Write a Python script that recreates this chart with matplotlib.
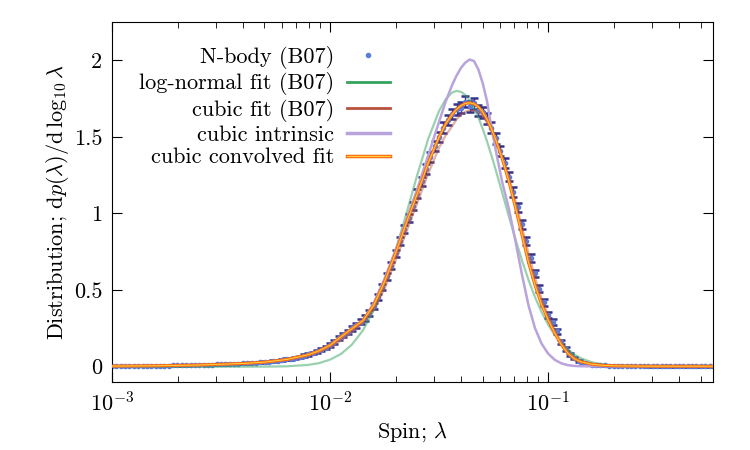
import numpy as np
import matplotlib
matplotlib.use("Agg")
import matplotlib.pyplot as plt
from matplotlib.lines import Line2D
from matplotlib.legend_handler import HandlerTuple

plt.rcParams['font.family'] = 'serif'
plt.rcParams['font.serif'] = ['cmr10', 'DejaVu Serif']
plt.rcParams['mathtext.fontset'] = 'cm'
plt.rcParams['axes.formatter.use_mathtext'] = True
plt.rcParams['font.size'] = 16

# N-body (B07) points, log10(lambda)
nbody_loglam = [
    -3.00, -2.98, -2.96, -2.94, -2.92, -2.90, -2.88, -2.86, -2.84, -2.82,
    -2.80, -2.78, -2.76, -2.74, -2.72, -2.70, -2.68, -2.66, -2.64, -2.62,
    -2.60, -2.58, -2.56, -2.54, -2.52, -2.50, -2.48, -2.46, -2.44, -2.42,
    -2.40, -2.38, -2.36, -2.34, -2.32, -2.30, -2.28, -2.26, -2.24, -2.22,
    -2.20, -2.18, -2.16, -2.14, -2.12, -2.10, -2.08, -2.06, -2.04, -2.02,
    -2.00, -1.98, -1.96, -1.94, -1.92, -1.90, -1.88, -1.86, -1.84, -1.82,
    -1.80, -1.78, -1.76, -1.74, -1.72, -1.70, -1.68, -1.66, -1.64, -1.62,
    -1.60, -1.58, -1.56, -1.54, -1.52, -1.50, -1.48, -1.46, -1.44, -1.42,
    -1.40, -1.38, -1.36, -1.34, -1.32, -1.30, -1.28, -1.26, -1.24, -1.22,
    -1.20, -1.18, -1.16, -1.14, -1.12, -1.10, -1.08, -1.06, -1.04, -1.02,
    -1.00, -0.98, -0.96, -0.94, -0.92, -0.90, -0.88, -0.86, -0.84, -0.82,
    -0.80, -0.78, -0.76, -0.74, -0.72, -0.70, -0.68, -0.66, -0.64, -0.62,
    -0.60, -0.58, -0.56, -0.54, -0.52, -0.50, -0.48, -0.46, -0.44, -0.42,
    -0.40, -0.38, -0.36, -0.34, -0.32, -0.30, -0.28, -0.26]
nbody_y = [
    0.004, 0.004, 0.004, 0.005, 0.004, 0.005, 0.005, 0.005, 0.006, 0.005,
    0.006, 0.007, 0.006, 0.007, 0.008, 0.008, 0.009, 0.009, 0.010, 0.010,
    0.011, 0.012, 0.013, 0.014, 0.015, 0.016, 0.017, 0.018, 0.019, 0.020,
    0.022, 0.023, 0.025, 0.026, 0.028, 0.030, 0.033, 0.036, 0.040, 0.044,
    0.048, 0.052, 0.057, 0.063, 0.072, 0.080, 0.090, 0.100, 0.112, 0.125,
    0.140, 0.160, 0.185, 0.205, 0.225, 0.250, 0.270, 0.292, 0.318, 0.350,
    0.395, 0.455, 0.52, 0.59, 0.66, 0.74, 0.82, 0.90, 0.97, 1.05,
    1.13, 1.21, 1.29, 1.37, 1.44, 1.50, 1.56, 1.61, 1.65, 1.68,
    1.69, 1.73, 1.70, 1.72, 1.67, 1.66, 1.62, 1.56, 1.49, 1.41,
    1.33, 1.24, 1.14, 1.04, 0.93, 0.82, 0.71, 0.61, 0.51, 0.42,
    0.34, 0.29, 0.23, 0.16, 0.115, 0.080, 0.055, 0.038, 0.027, 0.019,
    0.014, 0.011, 0.009, 0.008, 0.007, 0.006, 0.006, 0.005, 0.005, 0.004,
    0.004, 0.004, 0.004, 0.003, 0.003, 0.003, 0.003, 0.003, 0.003, 0.002,
    0.002, 0.002, 0.002, 0.002, 0.002, 0.002, 0.002, 0.002]
nbody_err = [
    0.002, 0.002, 0.002, 0.002, 0.002, 0.002, 0.002, 0.002, 0.002, 0.002,
    0.002, 0.002, 0.002, 0.002, 0.002, 0.002, 0.002, 0.002, 0.002, 0.002,
    0.003, 0.003, 0.003, 0.003, 0.003, 0.003, 0.003, 0.003, 0.003, 0.003,
    0.004, 0.004, 0.004, 0.004, 0.005, 0.005, 0.005, 0.005, 0.006, 0.006,
    0.006, 0.007, 0.007, 0.008, 0.008, 0.009, 0.009, 0.010, 0.010, 0.011,
    0.012, 0.012, 0.013, 0.014, 0.014, 0.015, 0.015, 0.016, 0.017, 0.017,
    0.018, 0.019, 0.020, 0.021, 0.022, 0.023, 0.024, 0.025, 0.026, 0.027,
    0.028, 0.029, 0.030, 0.031, 0.032, 0.033, 0.034, 0.035, 0.035, 0.036,
    0.036, 0.036, 0.036, 0.036, 0.036, 0.035, 0.035, 0.034, 0.034, 0.033,
    0.032, 0.031, 0.030, 0.029, 0.028, 0.027, 0.025, 0.024, 0.022, 0.021,
    0.019, 0.018, 0.016, 0.014, 0.012, 0.010, 0.008, 0.007, 0.006, 0.005,
    0.004, 0.004, 0.003, 0.003, 0.003, 0.003, 0.003, 0.002, 0.002, 0.002,
    0.002, 0.002, 0.002, 0.002, 0.002, 0.002, 0.002, 0.002, 0.002, 0.002,
    0.002, 0.002, 0.002, 0.002, 0.002, 0.002, 0.002, 0.002]

# fitted curves, log10(lambda)
curve_loglam = [-3.0, -2.8, -2.6, -2.4, -2.3, -2.2, -2.1, -2.05, -2.0, -1.95,
                -1.9, -1.85, -1.8, -1.75, -1.7, -1.65, -1.6, -1.55, -1.5, -1.47,
                -1.44, -1.42, -1.40, -1.38, -1.36, -1.34, -1.32, -1.30, -1.28, -1.26,
                -1.24, -1.21, -1.18, -1.15, -1.12, -1.09, -1.06, -1.03, -1.0, -0.97,
                -0.94, -0.91, -0.88, -0.85, -0.8, -0.75, -0.7, -0.6, -0.5, -0.4,
                -0.24]
lognormal_b07 = [0.0, 0.0, 0.0, 0.0001, 0.0004, 0.0024, 0.0115, 0.0235, 0.046, 0.083,
                 0.144, 0.236, 0.368, 0.542, 0.756, 1.0, 1.253, 1.487, 1.67, 1.746,
                 1.790, 1.800, 1.794, 1.774, 1.738, 1.688, 1.626, 1.552, 1.469, 1.379,
                 1.282, 1.132, 0.980, 0.832, 0.693, 0.566, 0.453, 0.356, 0.274, 0.207,
                 0.154, 0.112, 0.079, 0.055, 0.029, 0.015, 0.007, 0.0013, 0.0002, 0.0,
                 0.0]
cubic_b07 = [0.004, 0.006, 0.010, 0.019, 0.027, 0.042, 0.07, 0.094, 0.126, 0.17,
             0.225, 0.285, 0.37, 0.51, 0.69, 0.88, 1.07, 1.26, 1.43, 1.51,
             1.57, 1.615, 1.645, 1.665, 1.675, 1.672, 1.66, 1.635, 1.595, 1.545,
             1.48, 1.37, 1.235, 1.08, 0.91, 0.74, 0.58, 0.445, 0.335, 0.24,
             0.16, 0.10, 0.06, 0.036, 0.017, 0.01, 0.006, 0.004, 0.003, 0.003,
             0.003]
cubic_intrinsic = [0.004, 0.006, 0.011, 0.021, 0.03, 0.047, 0.078, 0.104, 0.14, 0.195,
                   0.25, 0.30, 0.415, 0.575, 0.76, 0.96, 1.16, 1.38, 1.60, 1.73,
                   1.84, 1.90, 1.95, 1.985, 2.005, 1.995, 1.94, 1.85, 1.73, 1.56,
                   1.41, 1.20, 1.03, 0.82, 0.60, 0.40, 0.25, 0.15, 0.085, 0.045,
                   0.022, 0.010, 0.005, 0.003, 0.003, 0.003, 0.003, 0.003, 0.003, 0.003,
                   0.003]
cubic_convolved = [0.004, 0.006, 0.011, 0.021, 0.030, 0.047, 0.078, 0.104, 0.140, 0.195,
                   0.248, 0.300, 0.400, 0.555, 0.740, 0.940, 1.130, 1.330, 1.500, 1.585,
                   1.647, 1.680, 1.704, 1.718, 1.723, 1.716, 1.697, 1.662, 1.614, 1.552,
                   1.480, 1.355, 1.210, 1.040, 0.860, 0.680, 0.530, 0.405, 0.305, 0.220,
                   0.145, 0.088, 0.052, 0.032, 0.016, 0.009, 0.006, 0.004, 0.003, 0.003,
                   0.003]

c_data = '#5b7ddb'
c_err = '#34338c'
c_green = '#34a35e'
c_red = '#b8523e'
c_purple = '#b9a3dc'
c_orange = '#fb6a13'
c_yellow = '#ffd23c'

fig = plt.figure(figsize=(7.5, 4.5), dpi=100)
ax = fig.add_axes([112 / 750, 1 - 382 / 450, 601 / 750, 360 / 450])

lam = 10 ** np.array(nbody_loglam)
clam = 10 ** np.array(curve_loglam)

ax.errorbar(lam, nbody_y, yerr=nbody_err, fmt='o', ms=3, color=c_data, mec=c_data,
            ecolor=c_err, elinewidth=1, capsize=3, capthick=1.8, zorder=2)
ax.plot(clam, lognormal_b07, color=c_green, lw=1.6, alpha=0.5, zorder=3)
ax.plot(clam, cubic_b07, color=c_red, lw=1.6, alpha=0.45, zorder=3)
ax.plot(clam, cubic_intrinsic, color=c_purple, lw=1.8, zorder=3)
ax.plot(clam, cubic_convolved, color=c_orange, lw=2.2, zorder=4)
ax.plot(clam, cubic_convolved, color=c_yellow, lw=0.7, zorder=5)

ax.set_xscale('log')
ax.set_xlim(1e-3, 0.57)
ax.set_ylim(-0.1, 2.25)
ax.set_yticks([0, 0.5, 1, 1.5, 2])
ax.set_yticklabels(['0', '0.5', '1', '1.5', '2'])
ax.tick_params(which='both', direction='in', top=True, right=True)
ax.tick_params(which='major', length=7, pad=7)
ax.tick_params(which='minor', length=4)
ax.tick_params(axis='y', which='minor', left=False, right=False)

ax.set_xlabel(r'Spin; $\lambda$', labelpad=3)
ax.set_ylabel(r'Distribution; $\mathrm{d}p(\lambda)/\mathrm{d}\,\log_{10}\lambda$', labelpad=2)

handles = [
    Line2D([], [], marker='o', ls='none', ms=3, color=c_data),
    Line2D([], [], color=c_green, lw=2),
    Line2D([], [], color=c_red, lw=2),
    Line2D([], [], color=c_purple, lw=2.5),
    (Line2D([], [], color=c_orange, lw=2.5), Line2D([], [], color=c_yellow, lw=0.8)),
]
labels = ['N-body (B07)', 'log-normal fit (B07)', 'cubic fit (B07)',
          'cubic intrinsic', 'cubic convolved fit']
ax.legend(handles, labels, loc='upper right', bbox_to_anchor=(390 / 750, 1 - 46 / 450),
          bbox_transform=fig.transFigure, frameon=False, markerfirst=False,
          borderpad=0, borderaxespad=0, handlelength=1.95, handletextpad=0.55,
          labelspacing=0.15, fontsize=16,
          handler_map={tuple: HandlerTuple(ndivide=1, pad=0)})

fig.savefig('out.png', dpi=100)
